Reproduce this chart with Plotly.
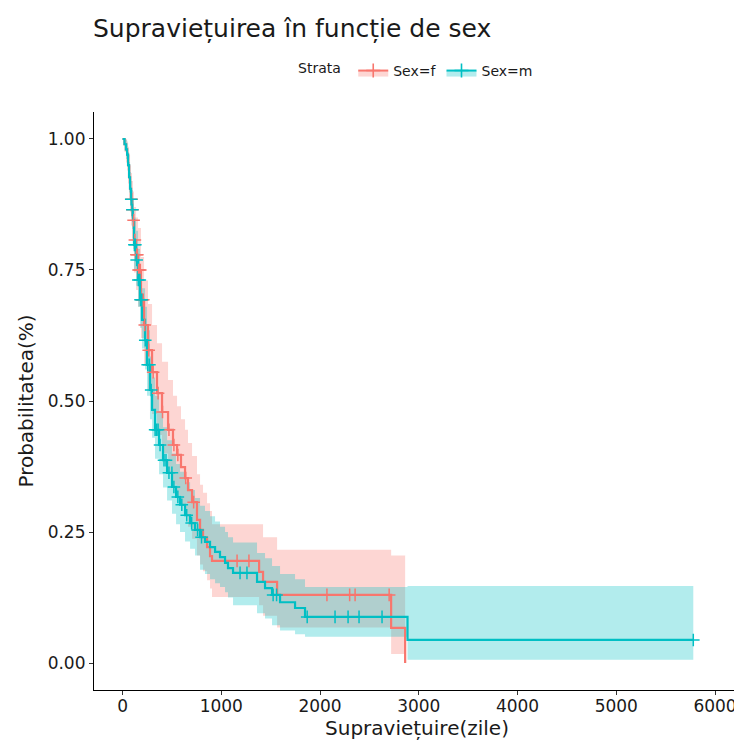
import numpy as np
import plotly.graph_objects as go

# ---------------- data ----------------
f_time = [0, 20, 35, 46, 56, 66, 76, 86, 96, 106, 116, 137, 157, 187, 218, 258, 299, 349, 400, 461,
          511, 552, 592, 633, 663, 704, 754, 785, 815, 856, 886, 906, 1383, 1423, 1565, 2720, 2862]
f_surv = [1.0, 0.99, 0.98, 0.97, 0.95, 0.927, 0.905, 0.885, 0.865, 0.845, 0.807, 0.779, 0.750, 0.693,
          0.645, 0.597, 0.555, 0.515, 0.479, 0.445, 0.416, 0.397, 0.374, 0.353, 0.330, 0.307, 0.273,
          0.254, 0.240, 0.221, 0.204, 0.195, 0.174, 0.155, 0.130, 0.067, 0.0]
f_lower = [1.0, 0.975, 0.955, 0.94, 0.915, 0.885, 0.86, 0.835, 0.81, 0.79, 0.745, 0.712, 0.68, 0.62,
           0.57, 0.52, 0.475, 0.435, 0.40, 0.365, 0.34, 0.32, 0.30, 0.28, 0.26, 0.237, 0.205, 0.188,
           0.175, 0.158, 0.142, 0.126, 0.11, 0.09, 0.068, 0.017, 0.017]
f_upper = [1.0, 1.0, 1.0, 0.995, 0.985, 0.97, 0.95, 0.935, 0.92, 0.90, 0.87, 0.85, 0.83, 0.775, 0.73,
           0.685, 0.645, 0.61, 0.575, 0.54, 0.51, 0.49, 0.465, 0.445, 0.42, 0.395, 0.36, 0.34, 0.325,
           0.305, 0.29, 0.265, 0.265, 0.24, 0.216, 0.205, 0.205]
f_censor = [92, 100, 112, 125, 140, 150, 162, 172, 180, 192, 200, 210, 225, 265, 310, 360, 405, 470,
            520, 560, 640, 720, 1160, 1280, 2070, 2300, 2355, 2700]

m_time = [0, 20, 35, 46, 56, 66, 76, 86, 96, 106, 116, 137, 157, 177, 197, 228, 248, 278, 299, 329,
          370, 410, 451, 501, 542, 582, 633, 684, 734, 785, 835, 886, 937, 987, 1038, 1068, 1119, 1362,
          1443, 1514, 1595, 1747, 1848, 2886, 5780]
m_surv = [1.0, 0.99, 0.98, 0.97, 0.95, 0.927, 0.905, 0.885, 0.865, 0.845, 0.798, 0.769, 0.731, 0.693,
          0.655, 0.616, 0.569, 0.521, 0.483, 0.445, 0.416, 0.387, 0.363, 0.336, 0.317, 0.302, 0.282,
          0.267, 0.254, 0.240, 0.231, 0.221, 0.212, 0.202, 0.191, 0.181, 0.172, 0.155, 0.143, 0.130,
          0.116, 0.105, 0.088, 0.044, 0.044]
m_lower = [1.0, 0.978, 0.962, 0.948, 0.925, 0.898, 0.873, 0.85, 0.828, 0.805, 0.75, 0.72, 0.68, 0.64,
           0.60, 0.56, 0.51, 0.465, 0.43, 0.39, 0.36, 0.335, 0.31, 0.285, 0.265, 0.25, 0.232, 0.218,
           0.205, 0.178, 0.17, 0.16, 0.152, 0.145, 0.135, 0.125, 0.11, 0.095, 0.085, 0.072, 0.062,
           0.055, 0.05, 0.006, 0.006]
m_upper = [1.0, 1.0, 0.998, 0.992, 0.975, 0.956, 0.937, 0.92, 0.902, 0.885, 0.85, 0.825, 0.79, 0.75,
           0.715, 0.68, 0.635, 0.585, 0.545, 0.51, 0.48, 0.45, 0.425, 0.40, 0.38, 0.365, 0.345, 0.33,
           0.315, 0.30, 0.29, 0.28, 0.27, 0.26, 0.25, 0.24, 0.23, 0.21, 0.20, 0.185, 0.17, 0.16, 0.145,
           0.147, 0.147]
m_censor = [88, 100, 120, 130, 143, 160, 175, 182, 195, 230, 255, 272, 290, 330, 345, 360, 380, 420,
            440, 470, 500, 520, 560, 600, 650, 700, 760, 800, 1190, 1260, 1525, 1560, 1870, 2152, 2284,
            2395, 2628, 5780]

x_ticks = [0, 1000, 2000, 3000, 4000, 5000, 6000]
y_ticks = [0.0, 0.25, 0.5, 0.75, 1.0]
y_ticklabels = ["0.00", "0.25", "0.50", "0.75", "1.00"]

groups = [
    ("Sex=f", f_time, f_surv, f_lower, f_upper, f_censor, "#F8766D", "rgba(248,118,109,0.30)"),
    ("Sex=m", m_time, m_surv, m_lower, m_upper, m_censor, "#00BFC4", "rgba(0,191,196,0.30)"),
]

FONT = "DejaVu Sans"
TXT = "#1a1a1a"
W = H = 734  # page body has an 8px default margin
fig = go.Figure()

# confidence bands
for name, t, s, lo, hi, cens, col, fcol in groups:
    fig.add_trace(go.Scatter(x=t, y=lo, mode="lines", line=dict(width=0, shape="hv"),
                             showlegend=False, hoverinfo="skip"))
    fig.add_trace(go.Scatter(x=t, y=hi, mode="lines", line=dict(width=0, shape="hv"),
                             fill="tonexty", fillcolor=fcol, showlegend=False, hoverinfo="skip"))

# survival curves
for name, t, s, lo, hi, cens, col, fcol in groups:
    fig.add_trace(go.Scatter(x=t, y=s, mode="lines", line=dict(color=col, width=2.2, shape="hv"),
                             showlegend=False))

# censor marks
for name, t, s, lo, hi, cens, col, fcol in groups:
    ta = np.array(t)
    sa = np.array(s)
    idx = np.searchsorted(ta, np.array(cens), side="right") - 1
    fig.add_trace(go.Scatter(x=cens, y=sa[idx], mode="markers",
                             marker=dict(symbol="cross-thin", size=9, line=dict(color=col, width=1.5)),
                             showlegend=False))

# legend entries
for name, t, s, lo, hi, cens, col, fcol in groups:
    fig.add_trace(go.Scatter(x=[None], y=[None], mode="lines+markers", name=name,
                             fill="toself", fillcolor=fcol,
                             line=dict(color=col, width=2),
                             marker=dict(symbol="cross-thin", size=10, line=dict(color=col, width=1.6))))

fig.update_layout(
    width=W, height=H,
    margin=dict(l=86, r=2, t=104, b=52, autoexpand=False),
    paper_bgcolor="white", plot_bgcolor="white",
    font=dict(family=FONT, color=TXT),
    title=dict(text="Supravieț" + "uirea în funcție de sex",
               x=85 / W, xanchor="left", xref="container",
               y=1 - 20 / H, yanchor="middle",
               font=dict(size=25, family=FONT, color=TXT)),
    legend=dict(orientation="h", x=0.5, xanchor="center", y=1.071, yanchor="middle",
                traceorder="normal",
                title=dict(text="Strata ", font=dict(size=14, family=FONT), side="left"),
                font=dict(size=14, family=FONT), itemwidth=30, bgcolor="rgba(0,0,0,0)"),
    xaxis=dict(range=[-289, 6253], tickvals=x_ticks, ticks="outside", ticklen=4, tickwidth=1,
               tickcolor="#333", showline=True, linecolor="black", linewidth=1.2,
               ticklabelstandoff=-4,
               showgrid=False, zeroline=False, tickfont=dict(size=17, family=FONT, color=TXT),
               title=dict(text="Supravieț" + "uire(zile)", font=dict(size=20, family=FONT),
                          standoff=6)),
    yaxis=dict(range=[-0.0515, 1.0515], tickvals=y_ticks, ticktext=y_ticklabels, ticks="outside",
               ticklen=4, tickwidth=1, tickcolor="#333", showline=True, linecolor="black",
               linewidth=1.2, showgrid=False, zeroline=False,
               tickfont=dict(size=17, family=FONT, color=TXT),
               title=dict(text="Probabilitatea(%)", font=dict(size=20, family=FONT), standoff=8)),
)

fig.write_html("out.html")
